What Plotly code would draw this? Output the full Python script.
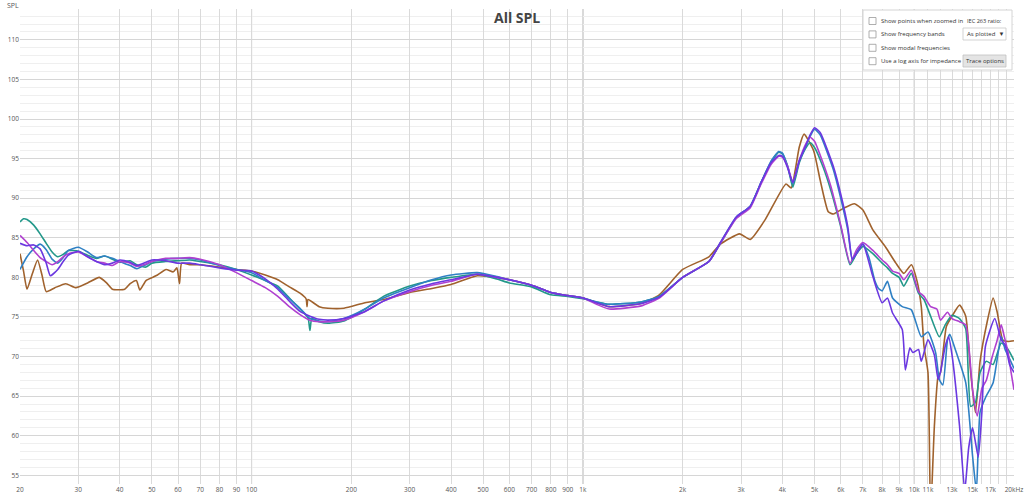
import plotly.graph_objects as go

# ---- measured traces (Hz, dB SPL) ----
BROWN_F = [20, 20.5, 21, 21.8, 22.6, 23.3, 24, 25.5, 27.5, 29.5, 32, 34.7, 36.5, 38, 41.4, 43, 44.9, 46, 48,
           50.3, 52, 55.2, 58, 59.5, 60.6, 61.5, 65, 70, 80, 90, 100, 110, 120, 130, 140, 146, 147, 148, 160,
           170, 190, 220, 250, 300, 350, 400, 480, 550, 600, 700, 800, 900, 1000, 1100, 1200, 1500, 1700,
           2000, 2400, 2600, 2970, 3200, 3550, 4100, 4250, 4500, 4650, 4970, 5200, 5500, 5700, 6100, 6600,
           7000, 7500, 8200, 8800, 9300, 9800, 10200, 10500, 10700, 11000, 11200, 11500, 11800, 12000,
           12500, 13000, 13700, 14300, 14800, 15300, 15800, 16600, 17300, 17800, 18500, 19200, 20000]
BROWN_DB = [83.0, 80.8, 78.5, 80.5, 82.2, 80.3, 78.2, 78.7, 79.2, 78.7, 79.3, 80.0, 79.3, 78.5, 78.5, 79.2,
            79.6, 78.4, 79.6, 80.0, 80.3, 81.0, 80.7, 81.2, 79.2, 81.8, 81.6, 81.6, 81.3, 81.0, 80.8, 80.3,
            79.7, 78.8, 78.0, 77.3, 76.3, 77.2, 76.3, 76.1, 76.1, 76.8, 77.2, 78.1, 78.6, 79.1, 80.2, 80.0,
            79.7, 79.0, 78.1, 77.7, 77.4, 76.8, 76.3, 76.7, 77.8, 81.0, 82.6, 84.2, 85.5, 84.8, 87.3, 91.8,
            91.3, 96.5, 98.1, 96.0, 92.3, 88.3, 88.0, 88.7, 89.3, 88.5, 86.0, 83.8, 81.8, 80.5, 81.6, 79.5,
            76.3, 71.3, 68.0, 50.0, 61.2, 67.5, 68.0, 73.8, 75.1, 76.5, 75.1, 68.0, 62.9, 69.4, 74.4, 77.4,
            75.6, 72.1, 71.9, 72.0]

TEAL_F = [20, 20.5, 21, 22, 23, 24, 25, 26, 27, 28, 30, 32, 34, 36, 38, 40, 43, 45, 48, 50, 55, 60, 65, 70,
          80, 90, 100, 110, 120, 130, 140, 148, 150, 152, 160, 170, 190, 220, 250, 300, 350, 400, 480, 550,
          600, 700, 800, 900, 1000, 1100, 1200, 1500, 1700, 2000, 2400, 2600, 2900, 3200, 3450, 3700, 3900,
          4000, 4150, 4300, 4500, 4700, 4850, 5000, 5300, 5600, 6000, 6400, 6700, 7000, 7500, 8000, 8300,
          8600, 9000, 9300, 9800, 10300, 10700, 11200, 11900, 12400, 13000, 13700, 14300, 14800, 15300,
          15800, 16500, 17300, 18300, 19200, 20000]
TEAL_DB = [87.0, 87.4, 87.3, 86.6, 85.5, 84.3, 83.2, 82.6, 82.9, 83.4, 83.3, 82.8, 82.4, 82.7, 82.3, 81.9,
           82.1, 81.6, 81.3, 81.8, 82.0, 82.1, 82.2, 82.0, 81.6, 81.0, 80.3, 79.6, 78.9, 77.4, 76.0, 74.9,
           73.3, 74.8, 74.4, 74.2, 74.5, 76.0, 77.6, 78.9, 79.6, 80.0, 80.4, 79.8, 79.3, 78.8, 77.8, 77.6,
           77.3, 76.9, 76.6, 76.9, 77.6, 80.0, 82.0, 84.3, 87.5, 89.0, 92.0, 94.6, 95.8, 95.6, 94.0, 91.4,
           94.5, 96.3, 97.0, 96.4, 94.0, 91.0, 86.4, 81.6, 83.0, 83.9, 83.0, 81.8, 81.2, 80.5, 80.0, 78.9,
           80.5, 78.0, 77.2, 75.1, 72.5, 74.0, 75.2, 74.8, 73.5, 63.7, 64.2, 68.0, 69.4, 69.0, 71.7, 70.9,
           69.5]

BLUE_F = [20, 21, 22, 23, 24, 25, 26, 27, 28, 30, 32, 34, 36, 38, 40, 43, 45, 48, 50, 55, 60, 65, 70, 80,
          90, 100, 110, 120, 130, 140, 150, 160, 170, 190, 220, 250, 300, 350, 400, 480, 550, 600, 700, 800,
          900, 1000, 1100, 1200, 1500, 1700, 2000, 2400, 2600, 2900, 3200, 3450, 3700, 3900, 4000, 4150,
          4300, 4500, 4700, 4850, 5000, 5200, 5700, 6000, 6300, 6500, 6700, 7000, 7300, 7600, 7800, 8000,
          8300, 8600, 9200, 9800, 10500, 11000, 11600, 11900, 12200, 12600, 12800, 13300, 14300, 15000,
          15400, 15800, 16400, 17300, 18300, 18800, 19400, 20000]
BLUE_DB = [81.0, 82.6, 83.6, 84.2, 83.5, 82.3, 81.8, 82.5, 83.4, 83.8, 83.2, 82.5, 82.7, 82.4, 82.0, 81.5,
           81.1, 81.6, 82.0, 82.3, 82.4, 82.4, 82.2, 81.5, 81.0, 80.6, 79.6, 78.7, 77.3, 76.1, 74.8, 74.5,
           74.4, 74.8, 76.0, 77.4, 78.7, 79.7, 80.3, 80.6, 80.1, 79.7, 79.0, 78.1, 77.7, 77.4, 76.9, 76.6,
           76.9, 77.6, 80.0, 82.0, 84.4, 87.6, 89.0, 92.0, 94.7, 95.9, 95.7, 94.0, 91.8, 94.7, 96.5, 97.8,
           98.7, 98.0, 93.6, 90.0, 86.0, 82.2, 83.2, 84.2, 82.5, 79.6, 78.6, 78.3, 79.5, 77.4, 76.3, 75.9,
           72.5, 73.1, 70.5, 67.1, 66.4, 72.1, 72.8, 70.9, 66.7, 57.4, 53.0, 63.0, 64.8, 66.7, 72.5, 70.9,
           69.7, 68.5]

MAGENTA_F = [20, 21, 22, 23, 24, 25, 26, 27, 28, 30, 32, 34, 36, 38, 40, 43, 45, 48, 50, 55, 60, 65, 70,
             80, 90, 100, 110, 120, 130, 140, 150, 160, 170, 190, 220, 250, 300, 350, 400, 480, 550, 600,
             700, 800, 900, 1000, 1100, 1200, 1500, 1700, 2000, 2400, 2600, 2900, 3200, 3450, 3700, 3900,
             4000, 4150, 4300, 4500, 4700, 4850, 5000, 5300, 5600, 6000, 6400, 6700, 7000, 7500, 8000, 8300,
             8600, 9000, 9300, 9800, 10300, 10700, 11200, 11700, 12000, 12600, 13000, 13700, 14300, 15000,
             15500, 16000, 16500, 17200, 17800, 18300, 18700, 19200, 19600, 20000]
MAGENTA_DB = [85.3, 84.4, 83.4, 82.5, 82.0, 81.6, 82.0, 82.6, 83.0, 83.2, 82.6, 82.0, 81.8, 81.5, 82.0,
              81.8, 81.4, 81.7, 82.0, 82.4, 82.4, 82.5, 82.3, 81.6, 80.6, 79.6, 78.7, 77.6, 76.3, 75.3,
              74.6, 74.4, 74.4, 74.6, 75.7, 77.0, 78.2, 79.0, 79.5, 80.4, 80.0, 79.7, 79.0, 78.1, 77.7,
              77.4, 76.6, 76.0, 76.4, 77.4, 80.0, 82.0, 84.3, 87.4, 88.8, 91.8, 94.3, 95.3, 95.2, 94.0,
              92.0, 94.8, 96.8, 97.7, 97.2, 94.5, 91.5, 86.6, 81.8, 83.5, 84.4, 83.4, 82.2, 81.6, 80.8,
              80.5, 79.7, 80.9, 78.2, 77.6, 76.3, 76.0, 74.6, 75.6, 74.8, 74.4, 74.0, 65.8, 62.5, 66.0,
              67.0, 70.0, 72.1, 74.0, 72.5, 70.5, 68.0, 65.8]

VIOLET_F = [20, 21, 22, 23, 24, 24.7, 26, 27, 28, 30, 32, 34, 36, 38, 40, 43, 45, 48, 50, 55, 60, 65, 70,
            80, 90, 100, 110, 120, 130, 140, 150, 160, 170, 190, 220, 250, 300, 350, 400, 480, 550, 600, 700,
            800, 900, 1000, 1100, 1200, 1500, 1700, 2000, 2400, 2600, 2900, 3200, 3450, 3700, 3900, 4000,
            4150, 4300, 4500, 4700, 4850, 5000, 5200, 5700, 6000, 6300, 6500, 6700, 7000, 7500, 8000, 8300,
            8600, 9200, 9400, 9700, 9900, 10300, 10500, 11000, 11500, 11800, 12000, 12400, 12700, 13000,
            13700, 14200, 14600, 15000, 15600, 16000, 16400, 17500, 18300, 18800, 19400, 20000]
VIOLET_DB = [84.3, 84.0, 84.1, 83.6, 81.8, 80.2, 81.0, 82.0, 82.8, 83.3, 82.6, 82.0, 81.6, 81.8, 82.2,
             81.9, 81.5, 81.9, 82.2, 82.1, 81.8, 81.8, 81.6, 81.2, 80.9, 80.8, 79.8, 78.5, 77.0, 75.7,
             75.1, 74.7, 74.6, 74.8, 75.7, 77.0, 78.4, 79.2, 79.7, 80.4, 80.0, 79.7, 79.0, 78.1, 77.7,
             77.4, 76.8, 76.3, 76.7, 77.5, 80.0, 82.0, 84.4, 87.6, 89.0, 92.0, 94.5, 95.4, 95.3, 93.8,
             92.0, 94.8, 96.6, 98.0, 98.9, 98.3, 94.0, 90.5, 86.4, 82.3, 83.0, 84.2, 80.1, 76.8, 77.4,
             75.5, 73.4, 68.3, 71.1, 70.5, 70.9, 69.4, 72.1, 70.2, 67.1, 68.0, 71.3, 72.5, 70.2, 61.2,
             53.0, 58.5, 61.0, 57.3, 63.0, 71.3, 74.8, 72.1, 71.5, 69.0, 68.0]

TRACES = [
    (BROWN_F, BROWN_DB, "#a0622d"),
    (TEAL_F, TEAL_DB, "#23988a"),
    (BLUE_F, BLUE_DB, "#2f80c4"),
    (MAGENTA_F, MAGENTA_DB, "#b040d0"),
    (VIOLET_F, VIOLET_DB, "#6b38e0"),
]

X_TICKS = [20, 30, 40, 50, 60, 70, 80, 90, 100, 200, 300, 400, 500, 600, 700, 800, 900,
           1000, 2000, 3000, 4000, 5000, 6000, 7000, 8000, 9000, 10000, 11000, 12000, 13000,
           14000, 15000, 16000, 17000, 18000, 19000, 20000]
X_LABELS = ["20", "30", "40", "50", "60", "70", "80", "90", "100", "200", "300", "400", "500", "600",
            "700", "800", "900", "1k", "2k", "3k", "4k", "5k", "6k", "7k", "8k", "9k", "10k", "11k", "",
            "13k", "", "15k", "", "17k", "", "", "20kHz"]
DECADES = [100, 1000, 10000]
Y_TICKS = [55, 60, 65, 70, 75, 80, 85, 90, 95, 100, 105, 110]

CHECKBOXES = ["Show points when zoomed in", "Show frequency bands",
              "Show modal frequencies", "Use a log axis for impedance"]

W, H = 1024, 497
L, R, T, B = 20, 10, 9, 13
UI_FONT = dict(size=6, color="#333", family="Open Sans")


def px(x):
    return (x - L) / (W - L - R)


def py(y):
    return (H - B - y) / (H - T - B)


fig = go.Figure()
for f, db, color in TRACES:
    fig.add_trace(go.Scatter(
        x=f, y=db, mode="lines",
        line=dict(color=color, width=1.6, shape="spline", smoothing=0.5),
        hoverinfo="skip", showlegend=False,
    ))

shapes = []
for d in DECADES:
    shapes.append(dict(type="line", xref="x", yref="paper", x0=d, x1=d, y0=0, y1=1,
                       line=dict(color="#a8a8a8", width=1), layer="below"))

# REW control panel overlay
shapes.append(dict(type="rect", xref="paper", yref="paper",
                   x0=px(863), x1=px(1012), y0=py(70), y1=py(10),
                   fillcolor="white", line=dict(color="#d4d4d4", width=1)))
annotations = []
for i, label in enumerate(CHECKBOXES):
    yc = 21 + i * 13.4
    shapes.append(dict(type="rect", xref="paper", yref="paper",
                       x0=px(869), x1=px(876), y0=py(yc + 3.5), y1=py(yc - 3.5),
                       fillcolor="white", line=dict(color="#9a9a9a", width=0.8)))
    annotations.append(dict(text=label, xref="paper", yref="paper", x=px(878.5), y=py(yc),
                            xanchor="left", yanchor="middle", showarrow=False, font=UI_FONT))
annotations.append(dict(text="IEC 263 ratio:", xref="paper", yref="paper", x=px(1004), y=py(21),
                        xanchor="right", yanchor="middle", showarrow=False,
                        font=dict(size=5.6, color="#333", family="Open Sans")))
shapes.append(dict(type="rect", xref="paper", yref="paper",
                   x0=px(963), x1=px(1006), y0=py(40), y1=py(28),
                   fillcolor="white", line=dict(color="#c8c8c8", width=0.8)))
annotations.append(dict(text="As plotted  ▼", xref="paper", yref="paper", x=px(965), y=py(34),
                        xanchor="left", yanchor="middle", showarrow=False, font=UI_FONT))
shapes.append(dict(type="rect", xref="paper", yref="paper",
                   x0=px(963), x1=px(1006), y0=py(67), y1=py(55),
                   fillcolor="#e4e4e4", line=dict(color="#c0c0c0", width=0.8)))
annotations.append(dict(text="Trace options", xref="paper", yref="paper", x=px(984.5), y=py(61),
                        xanchor="center", yanchor="middle", showarrow=False, font=UI_FONT))

annotations.append(dict(text="<b>All SPL</b>", xref="paper", yref="paper", x=0.5, y=py(18),
                        xanchor="center", yanchor="middle", showarrow=False,
                        font=dict(size=14, color="#444", family="Open Sans")))
annotations.append(dict(text="SPL", xref="paper", yref="paper", x=px(5), y=py(5),
                        xanchor="left", yanchor="middle", showarrow=False,
                        font=dict(size=7, color="#555", family="Open Sans")))

fig.update_layout(
    width=W, height=H,
    margin=dict(l=L, r=R, t=T, b=B, autoexpand=False),
    paper_bgcolor="white", plot_bgcolor="white",
    shapes=shapes, annotations=annotations,
    xaxis=dict(
        type="log", range=[1.30103, 4.30103], automargin=False,
        tickmode="array", tickvals=X_TICKS, ticktext=X_LABELS, tickangle=0,
        showgrid=True, gridcolor="#dadada", gridwidth=1,
        zeroline=False, showline=False, ticks="",
        tickfont=dict(size=6.5, color="#555", family="Open Sans"),
    ),
    yaxis=dict(
        range=[53.9, 113.9], automargin=False,
        tickmode="array", tickvals=Y_TICKS,
        showgrid=True, gridcolor="#d6d6d6", gridwidth=1,
        minor=dict(dtick=1, showgrid=True, gridcolor="#efefef", gridwidth=1),
        zeroline=False, showline=False, ticks="",
        tickfont=dict(size=6.5, color="#555", family="Open Sans"),
    ),
)

# page has a default 8px body margin; drop it so the figure fills the window
fig.write_html("out.html", config={"displayModeBar": False},
               post_script="document.body.style.margin='0px';")
